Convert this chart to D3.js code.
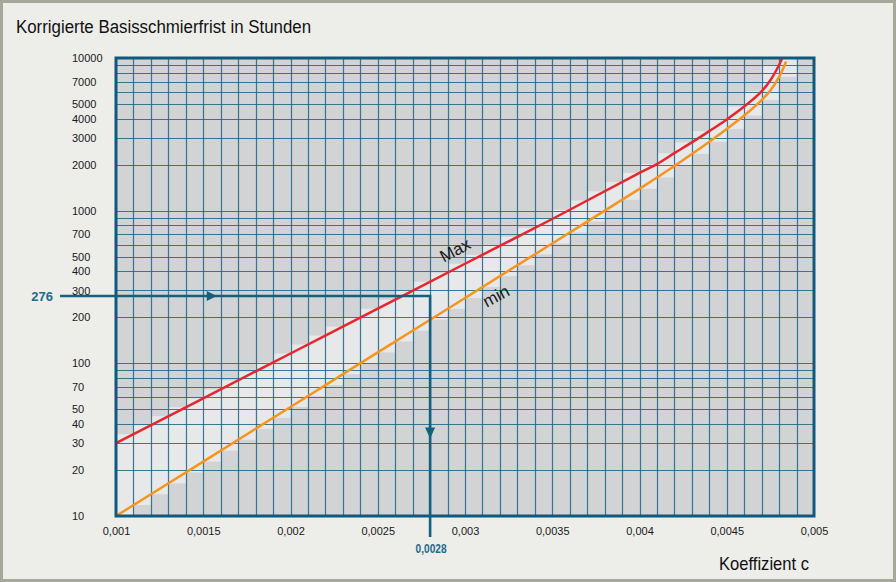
<!DOCTYPE html>
<html><head><meta charset="utf-8">
<script src="https://cdn.jsdelivr.net/npm/d3@7"></script>
<style>
html,body{margin:0;padding:0;background:#ededea;}
svg{display:block;}
text{font-family:"Liberation Sans",Arial,Helvetica,sans-serif;}
</style></head>
<body>
<svg id="chart" width="896" height="582"></svg>
<script>
// ---- data ----
const title = "Korrigierte Basisschmierfrist in Stunden";
const xTitle = "Koeffizient c";
const xTicks = [0.001, 0.0015, 0.002, 0.0025, 0.003, 0.0035, 0.004, 0.0045, 0.005];
const yTicks = [10, 20, 30, 40, 50, 70, 100, 200, 300, 400, 500, 700, 1000, 2000, 3000, 4000, 5000, 7000, 10000];
const maxC = [0.001, 0.0015, 0.002, 0.0025, 0.003, 0.0035, 0.004, 0.0041, 0.0042, 0.0043, 0.0044, 0.0045, 0.0046, 0.0047, 0.00475, 0.0048, 0.004818];
const maxH = [30, 59, 116, 228, 449, 882, 1770, 2020, 2380, 2800, 3320, 3960, 4810, 6050, 7150, 9000, 10000];
const minC = [0.001, 0.0015, 0.002, 0.0025, 0.003, 0.0035, 0.004, 0.0042, 0.0043, 0.0044, 0.0045, 0.0046, 0.0047, 0.00475, 0.0048, 0.00483, 0.00484];
const minH = [10, 22.7, 51.8, 118, 268, 610, 1390, 1960, 2350, 2830, 3430, 4200, 5300, 6120, 7530, 8890, 9480];
const exampleC = 0.0028;
const exampleH = 276;
const seriesLabels = ["Max", "min"];

// ---- layout ----
const svg = d3.select("#chart");
const W = 896, H = 582;
const x = d3.scaleLinear().domain([0.001, 0.005]).range([116, 814]);
const y = d3.scaleLog().domain([10, 10000]).range([516, 58]);
const gridColor = "#1f6586", frameColor = "#10597a", teal = "#1d6a8b";
const red = "#e8262d", orange = "#f7941d";

svg.append("rect").attr("x", 0).attr("y", 0).attr("width", W).attr("height", H).attr("fill", "#ededea");
svg.append("rect").attr("x", 1.5).attr("y", 1.5).attr("width", W - 3).attr("height", H - 3)
  .attr("fill", "none").attr("stroke", "#a6a89b").attr("stroke-width", 3);

const [x0, x1] = x.range(), [yb, yt] = y.range();
svg.append("rect").attr("x", x0).attr("y", yt).attr("width", x1 - x0).attr("height", yb - yt).attr("fill", "#d1d3d5");

const maxPts = maxC.map((c, i) => [c, maxH[i]]);
const minPts = minC.map((c, i) => [c, minH[i]]);

// light band between curves (stepped per grid column, as in the original)
const fMax = d3.scaleLinear().domain(maxC).range(maxH.map(Math.log10));
const fMin = d3.scaleLinear().domain(minC).range(minH.map(Math.log10));
const xGrid = d3.range(10, 51).map(k => k / 10000);
const cols = [];
for (let i = 0; i < xGrid.length - 1; i++) {
  const a = xGrid[i], b = xGrid[i + 1];
  if (a > minC[minC.length - 1]) break;
  const top = b > maxC[maxC.length - 1] ? 10000 : Math.pow(10, fMax(b));
  const bot = Math.pow(10, fMin(a));
  cols.push({a, b, top, bot});
}
svg.append("g").selectAll("rect").data(cols).join("rect")
  .attr("x", d => x(d.a)).attr("width", d => x(d.b) - x(d.a))
  .attr("y", d => y(d.top)).attr("height", d => y(d.bot) - y(d.top))
  .attr("fill", "#e6e8ea");

// grid
const yGrid = [];
[10, 100, 1000].forEach(d => { for (let k = 1; k <= 9; k++) yGrid.push(d * k); });
yGrid.push(10000);
const g = svg.append("g");
g.selectAll("line.vx").data(xGrid.slice(1, -1)).join("line")
  .attr("x1", d => Math.round(x(d)) + 0.5).attr("x2", d => Math.round(x(d)) + 0.5)
  .attr("y1", yt).attr("y2", yb).attr("stroke", gridColor).attr("stroke-width", 1.2).attr("opacity", 0.85);
g.selectAll("line.hy").data(yGrid.slice(1, -1)).join("line")
  .attr("y1", d => Math.round(y(d)) + 0.5).attr("y2", d => Math.round(y(d)) + 0.5)
  .attr("x1", x0).attr("x2", x1).attr("stroke", gridColor).attr("stroke-width", 1.2).attr("opacity", 0.85);

// curves
const line = d3.line().x(d => x(d[0])).y(d => y(d[1])).curve(d3.curveCatmullRom.alpha(0.5));
svg.append("path").datum(minPts).attr("d", line).attr("fill", "none").attr("stroke", orange).attr("stroke-width", 2.5);
svg.append("path").datum(maxPts).attr("d", line).attr("fill", "none").attr("stroke", red).attr("stroke-width", 2.5);

// frame
svg.append("rect").attr("x", x0).attr("y", yt).attr("width", x1 - x0).attr("height", yb - yt)
  .attr("fill", "none").attr("stroke", frameColor).attr("stroke-width", 3);

// example reading lines
const ex = x(exampleC), ey = y(exampleH);
svg.append("path").attr("d", `M60,${ey}H${ex}V537`).attr("fill", "none").attr("stroke", "#13607f").attr("stroke-width", 2.6);
svg.append("path").attr("d", `M${x(0.00152)},${ey - 5}l10,5l-10,5Z`).attr("fill", "#13607f");
svg.append("path").attr("d", `M${ex - 5},${y(38)}l5,11l5,-11Z`).attr("fill", "#13607f");
svg.append("text").attr("x", 53).attr("y", ey + 5).attr("text-anchor", "end")
  .attr("font-size", 13).attr("font-weight", "bold").attr("fill", teal).text(String(exampleH));
svg.append("text").attr("x", ex + 1).attr("y", 553).attr("text-anchor", "middle")
  .attr("font-size", 12).attr("font-weight", "bold").attr("fill", teal).attr("textLength", 31).attr("lengthAdjust", "spacingAndGlyphs")
  .text(String(exampleC).replace(".", ","));

// axes (labels only)
const fmt = d => String(+d.toFixed(4)).replace(".", ",");
const xa = svg.append("g").attr("transform", `translate(0,${yb + 15})`)
  .call(d3.axisBottom(x).tickValues(xTicks).tickFormat(fmt).tickSize(0).tickPadding(0));
xa.select(".domain").remove();
xa.selectAll("text").attr("font-size", 11).attr("fill", "#1a1a1a").attr("font-family", null).attr("dy", "0.32em").attr("y", 0);
const ya = svg.append("g").attr("transform", "translate(72,0)")
  .call(d3.axisLeft(y).tickValues(yTicks).tickFormat(d => String(d)).tickSize(0).tickPadding(0));
ya.select(".domain").remove();
ya.selectAll("text").attr("font-size", 11).attr("fill", "#1a1a1a").attr("font-family", null)
  .attr("text-anchor", "start").attr("x", 0);

// titles
svg.append("text").attr("x", 16).attr("y", 33).attr("font-size", 18).attr("fill", "#111")
  .style("font-family", "'Liberation Sans Narrow','Liberation Sans',Arial,sans-serif")
  .attr("textLength", 295).attr("lengthAdjust", "spacingAndGlyphs").text(title);
svg.append("text").attr("x", 719).attr("y", 570).attr("font-size", 19).attr("fill", "#111")
  .style("font-family", "'Liberation Sans Narrow','Liberation Sans',Arial,sans-serif")
  .attr("textLength", 90).attr("lengthAdjust", "spacingAndGlyphs").text(xTitle);

// series labels
const ang = -28;
svg.append("text").attr("transform", `translate(${x(0.002943)},${y(552)}) rotate(${ang})`)
  .attr("text-anchor", "middle").attr("dy", "0.35em").attr("font-size", 17).attr("fill", "#1a1a1a").text(seriesLabels[0]);
svg.append("text").attr("transform", `translate(${x(0.003178)},${y(276)}) rotate(${ang})`)
  .attr("text-anchor", "middle").attr("dy", "0.35em").attr("font-size", 17).attr("fill", "#1a1a1a").text(seriesLabels[1]);
</script>
</body></html>
